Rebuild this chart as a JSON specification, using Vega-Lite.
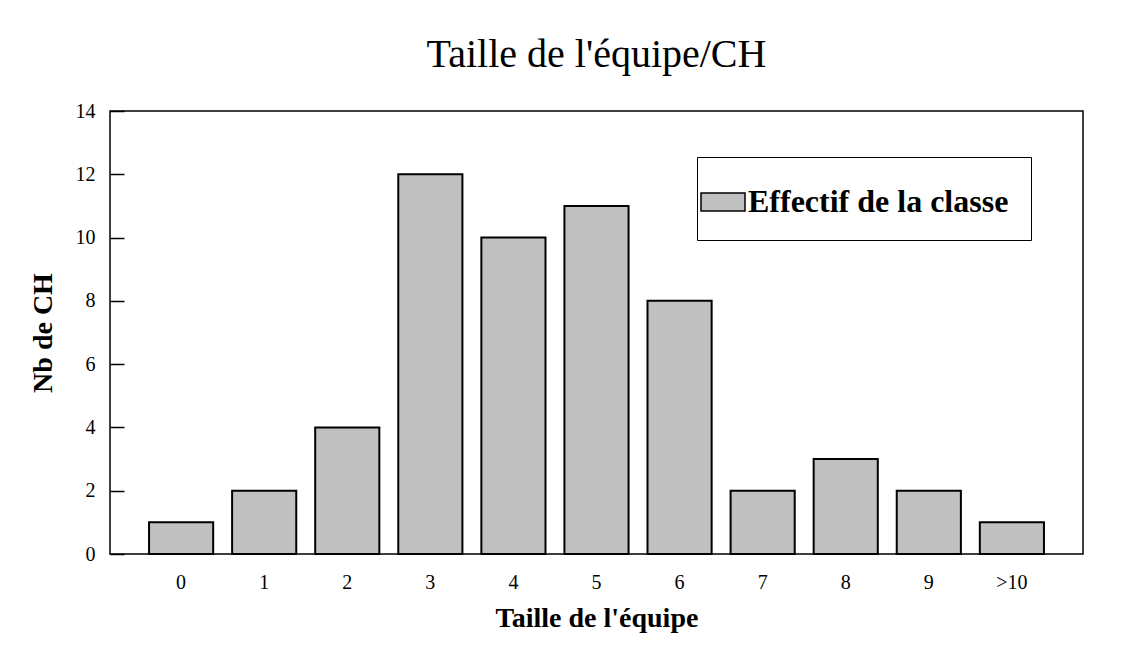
{
  "$schema": "https://vega.github.io/schema/vega-lite/v6.json",
  "autosize": {"type": "none"},
  "padding": {"left": 110, "top": 111, "right": 54, "bottom": 106},
  "width": 973,
  "height": 443,
  "background": "white",
  "title": {
    "text": "Taille de l'équipe/CH",
    "font": "Liberation Serif",
    "fontSize": 40,
    "fontWeight": "normal",
    "color": "black",
    "anchor": "middle",
    "baseline": "alphabetic",
    "offset": -6
  },
  "data": {
    "values": [
      {"taille": "0", "nb": 1, "serie": "Effectif de la classe"},
      {"taille": "1", "nb": 2, "serie": "Effectif de la classe"},
      {"taille": "2", "nb": 4, "serie": "Effectif de la classe"},
      {"taille": "3", "nb": 12, "serie": "Effectif de la classe"},
      {"taille": "4", "nb": 10, "serie": "Effectif de la classe"},
      {"taille": "5", "nb": 11, "serie": "Effectif de la classe"},
      {"taille": "6", "nb": 8, "serie": "Effectif de la classe"},
      {"taille": "7", "nb": 2, "serie": "Effectif de la classe"},
      {"taille": "8", "nb": 3, "serie": "Effectif de la classe"},
      {"taille": "9", "nb": 2, "serie": "Effectif de la classe"},
      {"taille": ">10", "nb": 1, "serie": "Effectif de la classe"}
    ]
  },
  "mark": {"type": "bar", "stroke": "black", "strokeWidth": 2},
  "encoding": {
    "x": {
      "field": "taille",
      "type": "nominal",
      "sort": null,
      "scale": {"paddingInner": 0.228, "paddingOuter": 0.47},
      "axis": {
        "title": "Taille de l'équipe",
        "titleFont": "Liberation Serif",
        "titleFontSize": 28,
        "titleFontWeight": "bold",
        "titleColor": "black",
        "titlePadding": 12,
        "labelFont": "Liberation Serif",
        "labelFontSize": 20,
        "labelColor": "black",
        "labelAngle": 0,
        "labelPadding": 18,
        "ticks": false,
        "domain": false
      }
    },
    "y": {
      "field": "nb",
      "type": "quantitative",
      "scale": {"domain": [0, 14], "nice": false},
      "axis": {
        "title": "Nb de CH",
        "titleFont": "Liberation Serif",
        "titleFontSize": 28,
        "titleFontWeight": "bold",
        "titleColor": "black",
        "titlePadding": 18,
        "labelFont": "Liberation Serif",
        "labelFontSize": 20,
        "labelColor": "black",
        "labelPadding": 29,
        "values": [0, 2, 4, 6, 8, 10, 12, 14],
        "grid": false,
        "domain": false,
        "ticks": true,
        "tickSize": -14,
        "tickColor": "black",
        "tickWidth": 1.5
      }
    },
    "fill": {
      "field": "serie",
      "type": "nominal",
      "scale": {"range": ["#c0c0c0"]},
      "legend": {
        "title": "\u2003",
        "titleOrient": "right",
        "titleFontSize": 24,
        "titlePadding": 0,
        "orient": "none",
        "legendX": 587,
        "legendY": 46,
        "padding": 22,
        "strokeColor": "black",
        "fillColor": "white",
        "symbolType": "M-1,-0.41L1,-0.41L1,0.41L-1,0.41Z",
        "symbolSize": 1936,
        "symbolStrokeColor": "black",
        "symbolStrokeWidth": 1.5,
        "symbolOffset": -19,
        "labelFont": "Liberation Serif",
        "labelFontSize": 32,
        "labelFontWeight": "bold",
        "labelColor": "black",
        "labelOffset": 2,
        "labelLimit": 400
      }
    }
  },
  "config": {
    "view": {"stroke": "black", "strokeWidth": 1.5}
  }
}
